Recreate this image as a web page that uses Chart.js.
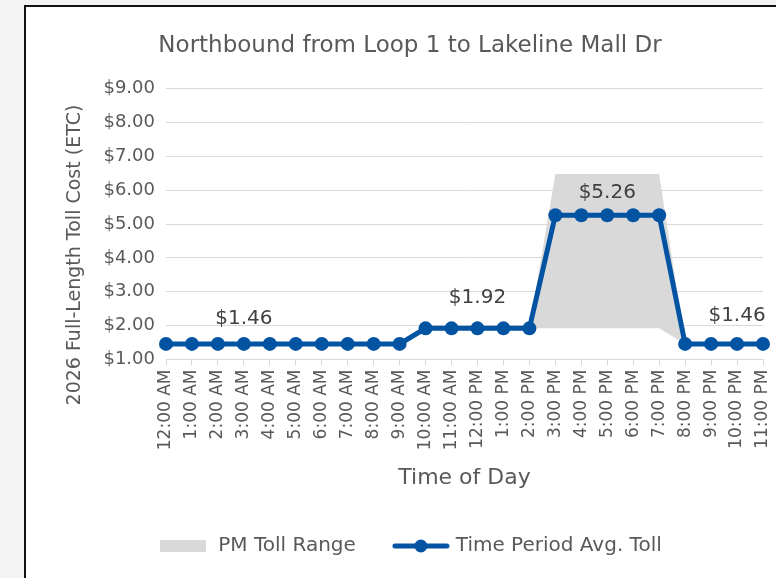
<!DOCTYPE html>
<html>
<head>
<meta charset="utf-8">
<script src="https://cdn.jsdelivr.net/npm/chart.js@4"></script>
<style>
html, body { margin: 0; padding: 0; width: 776px; height: 578px; overflow: hidden; background: #f3f3f4; }
#marco { position: absolute; left: 24px; top: 5px; width: 800px; height: 600px; border-left: 2px solid #111; border-top: 2px solid #111; background: #fff; }
#caja { position: absolute; left: 26px; top: 7px; width: 768px; height: 571px; }
</style>
</head>
<body>
<div id="marco"></div>
<div id="caja"><canvas id="grafico"></canvas></div>
<script>
const horas = ['12:00 AM', '1:00 AM', '2:00 AM', '3:00 AM', '4:00 AM', '5:00 AM', '6:00 AM', '7:00 AM',
    '8:00 AM', '9:00 AM', '10:00 AM', '11:00 AM', '12:00 PM', '1:00 PM', '2:00 PM', '3:00 PM',
    '4:00 PM', '5:00 PM', '6:00 PM', '7:00 PM', '8:00 PM', '9:00 PM', '10:00 PM', '11:00 PM'];

const peajePromedio = [1.46, 1.46, 1.46, 1.46, 1.46, 1.46, 1.46, 1.46, 1.46, 1.46,
    1.92, 1.92, 1.92, 1.92, 1.92,
    5.26, 5.26, 5.26, 5.26, 5.26,
    1.46, 1.46, 1.46, 1.46];

// Rango de peaje PM (borde inferior y superior del área gris)
const rangoInferior = [null, null, null, null, null, null, null, null, null, null, null, null, null, null,
    1.92, 1.92, 1.92, 1.92, 1.92, 1.92, 1.46, null, null, null];
const rangoSuperior = [null, null, null, null, null, null, null, null, null, null, null, null, null, null,
    1.92, 6.48, 6.48, 6.48, 6.48, 6.48, 1.46, null, null, null];

const valoresEjeY = [1, 2, 3, 4, 5, 6, 7, 8, 9];
const indicesEtiqueta = [3, 12, 17, 22];
const alturaEtiqueta = [25, 31, 22, 28];

const azul = '#0353a3';
const grisArea = '#d9d9d9';
const grisTexto = '#595959';
const fuente = '"DejaVu Sans", sans-serif';

// Iconos de la leyenda
const iconoRango = document.createElement('canvas');
iconoRango.width = 46;
iconoRango.height = 12;
let c = iconoRango.getContext('2d');
c.fillStyle = grisArea;
c.fillRect(0, 0, 46, 12);

const iconoLinea = document.createElement('canvas');
iconoLinea.width = 58;
iconoLinea.height = 14;
c = iconoLinea.getContext('2d');
c.strokeStyle = azul;
c.lineWidth = 5;
c.lineCap = 'round';
c.beginPath();
c.moveTo(3, 7);
c.lineTo(55, 7);
c.stroke();
c.fillStyle = azul;
c.beginPath();
c.arc(29, 7, 6.5, 0, Math.PI * 2);
c.fill();

const etiquetasValor = {
    id: 'etiquetasValor',
    afterDatasetsDraw(chart) {
        const meta = chart.getDatasetMeta(0);
        const ctx = chart.ctx;
        ctx.save();
        ctx.font = '20px ' + fuente;
        ctx.fillStyle = '#404040';
        ctx.textAlign = 'center';
        ctx.textBaseline = 'middle';
        indicesEtiqueta.forEach((i, k) => {
            const p = meta.data[i];
            ctx.fillText('$' + peajePromedio[i].toFixed(2), p.x, p.y - alturaEtiqueta[k]);
        });
        ctx.restore();
    }
};

const tituloEjeY = {
    id: 'tituloEjeY',
    afterDraw(chart) {
        const area = chart.chartArea;
        const ctx = chart.ctx;
        ctx.save();
        ctx.translate(area.left - 91, (area.top + area.bottom) / 2 + 31);
        ctx.rotate(-Math.PI / 2);
        ctx.font = '19px ' + fuente;
        ctx.fillStyle = grisTexto;
        ctx.textAlign = 'center';
        ctx.textBaseline = 'middle';
        ctx.fillText('2026 Full-Length Toll Cost (ETC)', 0, 0);
        ctx.restore();
    }
};

new Chart(document.getElementById('grafico'), {
    type: 'line',
    data: {
        labels: horas,
        datasets: [{
            label: 'Time Period Avg. Toll',
            data: peajePromedio,
            borderColor: azul,
            backgroundColor: azul,
            borderWidth: 5,
            pointRadius: 7,
            pointBorderWidth: 0,
            pointBackgroundColor: azul,
            tension: 0,
            fill: false
        }, {
            label: 'PM Toll Base',
            data: rangoInferior,
            borderColor: 'rgba(0,0,0,0)',
            borderWidth: 0,
            pointRadius: 0,
            fill: false
        }, {
            label: 'PM Toll Range',
            data: rangoSuperior,
            borderColor: 'rgba(0,0,0,0)',
            backgroundColor: grisArea,
            borderWidth: 0,
            pointRadius: 0,
            fill: 1
        }]
    },
    options: {
        responsive: true,
        maintainAspectRatio: false,
        animation: false,
        layout: { padding: { left: 31, right: 31, top: 0, bottom: 12 } },
        scales: {
            x: {
                offset: false,
                grid: { display: true, drawOnChartArea: false, drawTicks: true, tickLength: 6, color: grisArea },
                border: { display: true, color: grisArea },
                ticks: {
                    autoSkip: false, maxRotation: 90, minRotation: 90, padding: 4,
                    color: grisTexto, font: { family: fuente, size: 17 }
                },
                title: {
                    display: true, text: 'Time of Day', color: grisTexto,
                    font: { family: fuente, size: 22 }, padding: { top: 0, bottom: 5 }
                },
                afterFit: (scale) => { scale.height = 136.5; }
            },
            y: {
                min: 1,
                max: 9,
                afterBuildTicks: (scale) => { scale.ticks = valoresEjeY.map(v => ({ value: v })); },
                grid: { color: grisArea, drawTicks: false },
                border: { display: false },
                ticks: {
                    padding: 11, color: grisTexto, font: { family: fuente, size: 18 },
                    callback: (v) => '$' + Number(v).toFixed(2)
                },
                afterFit: (scale) => { scale.width = 109; }
            }
        },
        plugins: {
            title: {
                display: true,
                text: 'Northbound from Loop 1 to Lakeline Mall Dr',
                color: grisTexto,
                font: { family: fuente, size: 23, weight: 'normal' },
                padding: { top: 25, bottom: 29 }
            },
            legend: {
                position: 'bottom',
                labels: {
                    usePointStyle: true,
                    pointStyleWidth: 50,
                    padding: 40,
                    color: grisTexto,
                    font: { family: fuente, size: 20 },
                    generateLabels: (chart) => [
                        { text: chart.data.datasets[2].label, pointStyle: iconoRango, fontColor: grisTexto, lineWidth: 0, hidden: false, datasetIndex: 2 },
                        { text: chart.data.datasets[0].label, pointStyle: iconoLinea, fontColor: grisTexto, lineWidth: 0, hidden: false, datasetIndex: 0 }
                    ]
                }
            },
            tooltip: { enabled: false }
        }
    },
    plugins: [etiquetasValor, tituloEjeY]
});
</script>
</body>
</html>
